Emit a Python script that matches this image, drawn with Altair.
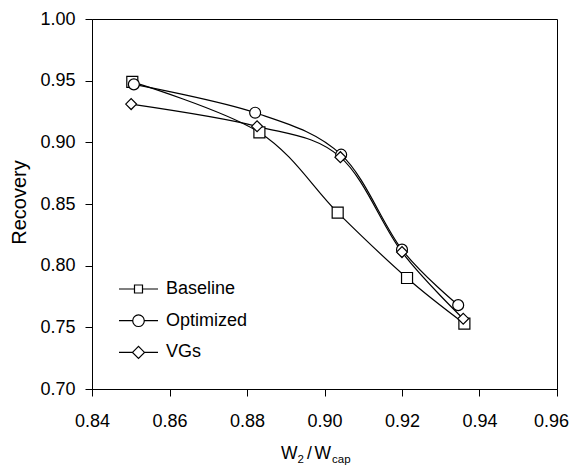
import altair as alt
import pandas as pd

series = ["Baseline", "Optimized", "VGs"]
baseline_x = [0.8504, 0.8832, 0.9034, 0.9213, 0.9361]
baseline_y = [0.949, 0.908, 0.843, 0.790, 0.753]
optimized_x = [0.8508, 0.8821, 0.9043, 0.9200, 0.9345]
optimized_y = [0.947, 0.924, 0.890, 0.813, 0.768]
vgs_x = [0.8501, 0.8826, 0.9041, 0.9200, 0.9358]
vgs_y = [0.931, 0.913, 0.888, 0.811, 0.757]
x_ticks = [0.84, 0.86, 0.88, 0.90, 0.92, 0.94, 0.96]
y_ticks = [0.70, 0.75, 0.80, 0.85, 0.90, 0.95, 1.00]

rows = []
for name, xs, ys in [("Baseline", baseline_x, baseline_y),
                     ("Optimized", optimized_x, optimized_y),
                     ("VGs", vgs_x, vgs_y)]:
    for i, (a, b) in enumerate(zip(xs, ys)):
        rows.append({"series": name, "x": a, "y": b, "order": i})
df = pd.DataFrame(rows)

FONT = "Liberation Sans"

xenc = alt.X("x:Q", scale=alt.Scale(domain=[0.84, 0.96], nice=False, zero=False),
             axis=alt.Axis(values=x_ticks, format=".2f", title=None, grid=False,
                           tickSize=7, labelPadding=16, labelFontSize=18,
                           labelOffset=alt.expr("datum.value > 0.955 ? -6 : 0"),
                           labelFlush=False, labelOverlap=False))
yenc = alt.Y("y:Q", scale=alt.Scale(domain=[0.70, 1.00], nice=False, zero=False),
             axis=alt.Axis(values=y_ticks, format=".2f", title="Recovery", grid=False,
                           tickSize=7, labelPadding=10, labelFontSize=18,
                           titleFontSize=20, titleFontWeight="normal",
                           titleX=-67, titleY=183, titleAngle=270,
                           titleAlign="center", titleBaseline="alphabetic",
                           labelFlush=False, labelOverlap=False))

base = alt.Chart(df)

lines = base.mark_line(color="black", strokeWidth=1.2, interpolate="cardinal", tension=0).encode(
    x=xenc, y=yenc, detail="series:N", order="order:Q")

points = base.mark_point(filled=True, fill="white", stroke="black", strokeWidth=1.2, opacity=1).encode(
    x="x:Q", y="y:Q",
    shape=alt.Shape("series:N", scale=alt.Scale(domain=series, range=["square", "circle", "diamond"]), legend=None),
    size=alt.Size("series:N", scale=alt.Scale(domain=series, range=[121, 118, 150]), legend=None),
)

paths = [
    "M-1.95,0H-0.4M0.4,0H1.95M-0.4,-0.4H0.4V0.4H-0.4Z",
    "M-1.95,0H-0.58M0.58,0H1.95M-0.58,0A0.58,0.58,0,1,1,0.58,0A0.58,0.58,0,1,1,-0.58,0Z",
    "M-1.95,0H-0.6M0.6,0H1.95M-0.6,0L0,-0.6L0.6,0L0,0.6Z",
]

legend_layer = base.transform_filter("false").mark_point(
    filled=False, stroke="black", color="black", strokeWidth=1.2, opacity=1, size=400).encode(
    x="x:Q", y="y:Q",
    shape=alt.Shape("series:N", scale=alt.Scale(domain=series, range=paths),
                    legend=alt.Legend(title=None, orient="none", legendX=35.5, legendY=259,
                                      symbolSize=400,
                                      symbolStrokeColor="black", symbolStrokeWidth=1.2,
                                      symbolOpacity=1,
                                      labelFontSize=18, labelFont=FONT, labelColor="black",
                                      labelOffset=16.5, rowPadding=11.7, padding=0)),
)

def piece(txt, x, y, size):
    return alt.Chart(pd.DataFrame({"t": [txt]})).mark_text(
        align="left", baseline="alphabetic", font=FONT, fontSize=size, color="black").encode(
        text="t:N", x=alt.value(x), y=alt.value(y))

title_parts = [
    piece("W", 189, 440.3, 17.5),
    piece("2", 205.5, 444, 11.5),
    piece("/", 215, 440.3, 17.5),
    piece("W", 222.5, 440.3, 17.5),
    piece("cap", 240, 444, 11.5),
]

chart = alt.layer(lines, points, legend_layer, *title_parts).resolve_scale(
    shape="independent", size="independent"
).properties(
    width=465, height=370,
    autosize=alt.AutoSizeParams(type="none"),
    padding={"left": 84, "top": 11, "right": 13, "bottom": 76},
).configure(font=FONT).configure_view(stroke="black", strokeWidth=1).configure_axis(
    domainColor="black", tickColor="black", labelColor="black", titleColor="black",
    labelFont=FONT, titleFont=FONT, domainWidth=1, tickWidth=1,
)

chart.save("out.html", embed_options={"renderer": "svg", "actions": False})
